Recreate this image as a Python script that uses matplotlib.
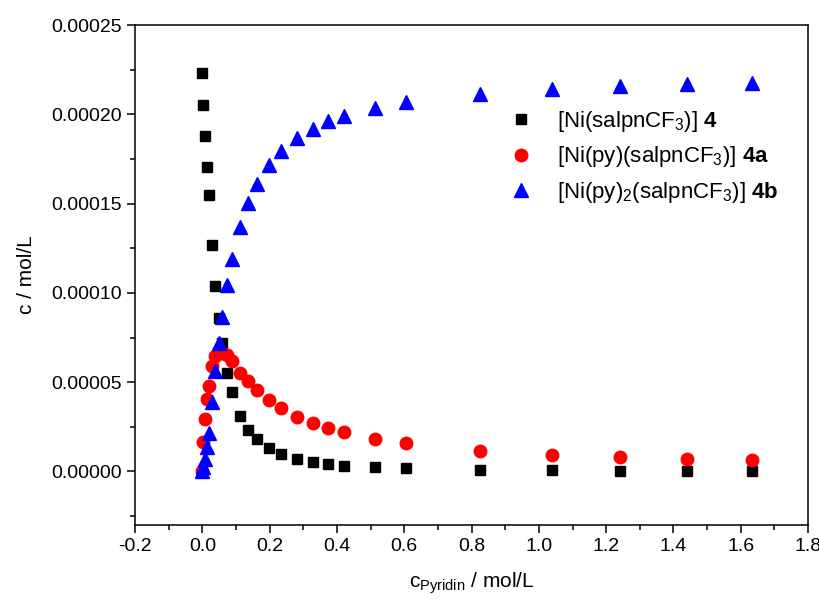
import numpy as np
import matplotlib
matplotlib.use("Agg")
import matplotlib.pyplot as plt
from matplotlib.ticker import MultipleLocator, FormatStrFormatter

plt.rcParams["font.family"] = ["Liberation Sans", "DejaVu Sans"]
plt.rcParams["mathtext.fontset"] = "custom"
plt.rcParams["mathtext.rm"] = "Liberation Sans"
plt.rcParams["mathtext.it"] = "Liberation Sans:italic"
plt.rcParams["mathtext.bf"] = "Liberation Sans:bold"

# ---- Data ----
c_pyr = [0.0, 0.0027, 0.0072, 0.0123, 0.0183, 0.0273, 0.0378, 0.0489, 0.0588,
         0.0734, 0.0873, 0.1118, 0.1367, 0.1613, 0.197, 0.233, 0.280, 0.328,
         0.374, 0.421, 0.513, 0.605, 0.826, 1.039, 1.242, 1.440, 1.632]

c_4 = [2.232e-4, 2.055e-4, 1.878e-4, 1.706e-4, 1.546e-4, 1.268e-4, 1.037e-4,
       8.61e-5, 7.17e-5, 5.54e-5, 4.43e-5, 3.12e-5, 2.34e-5, 1.82e-5, 1.30e-5,
       9.5e-6, 7.1e-6, 5.2e-6, 4.3e-6, 3.2e-6, 2.5e-6, 1.9e-6, 9e-7, 6e-7,
       5e-7, 5e-7, 5e-7]

c_4a = [0.0, 1.64e-5, 2.94e-5, 4.05e-5, 4.79e-5, 5.91e-5, 6.47e-5, 6.62e-5,
        6.64e-5, 6.50e-5, 6.19e-5, 5.54e-5, 5.04e-5, 4.55e-5, 4.0e-5, 3.53e-5,
        3.03e-5, 2.70e-5, 2.42e-5, 2.2e-5, 1.82e-5, 1.58e-5, 1.17e-5, 9.3e-6,
        8.0e-6, 6.8e-6, 6.3e-6]

c_4b = [0.0, 2.5e-6, 7.1e-6, 1.36e-5, 2.16e-5, 3.9e-5, 5.63e-5, 7.21e-5,
        8.64e-5, 1.042e-4, 1.189e-4, 1.371e-4, 1.505e-4, 1.608e-4, 1.715e-4,
        1.793e-4, 1.867e-4, 1.920e-4, 1.960e-4, 1.99e-4, 2.038e-4, 2.07e-4,
        2.115e-4, 2.143e-4, 2.157e-4, 2.171e-4, 2.178e-4]

labels = [r"[Ni(salpnCF$_3$)] $\mathbf{4}$",
          r"[Ni(py)(salpnCF$_3$)] $\mathbf{4a}$",
          r"[Ni(py)$_2$(salpnCF$_3$)] $\mathbf{4b}$"]


def main():
    fig = plt.figure(figsize=(8.19, 5.99), dpi=100)
    ax = fig.add_axes([0.165, 0.1235, 0.8216, 0.8347])

    ax.plot(c_pyr, c_4, ls="none", marker="s", ms=7.8, color="black",
            label=labels[0])
    ax.plot(c_pyr, c_4a, ls="none", marker="o", ms=9, color="red",
            label=labels[1])
    ax.plot(c_pyr, c_4b, ls="none", marker="^", ms=10, color="blue",
            label=labels[2])

    ax.set_xlim(-0.2, 1.8)
    ax.set_ylim(-0.00003, 0.00025)
    ax.xaxis.set_major_locator(MultipleLocator(0.2))
    ax.xaxis.set_minor_locator(MultipleLocator(0.1))
    ax.yaxis.set_major_locator(MultipleLocator(0.00005))
    ax.yaxis.set_minor_locator(MultipleLocator(0.000025))
    ax.xaxis.set_major_formatter(FormatStrFormatter("%.1f"))
    ax.yaxis.set_major_formatter(FormatStrFormatter("%.5f"))

    ax.tick_params(which="both", direction="out", top=False, right=False,
                   labelsize=14, width=1.1)
    ax.tick_params(which="major", length=6)
    ax.tick_params(which="minor", length=3.5)
    for sp in ax.spines.values():
        sp.set_linewidth(1.1)

    ax.set_xlabel(r"c$_\mathrm{Pyridin}$ / mol/L", fontsize=15, labelpad=11)
    ax.set_ylabel("c / mol/L", fontsize=15, labelpad=11)

    ax.legend(loc="upper left", bbox_to_anchor=(0.5406, 0.85), frameon=False,
              fontsize=16, handletextpad=1.0, labelspacing=0.47,
              handlelength=1.2, borderaxespad=0)

    fig.savefig("out.png", dpi=100)
    plt.close(fig)


if __name__ == "__main__":
    main()
